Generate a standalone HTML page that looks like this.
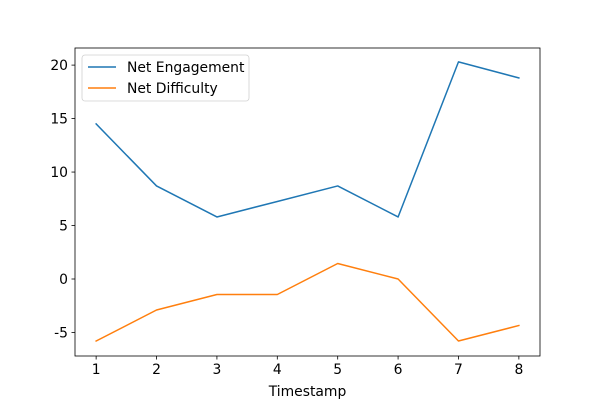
<!DOCTYPE html>
<html><head><meta charset="utf-8"><style>
html,body{margin:0;padding:0;background:#fff;}
svg{display:block;font-family:"DejaVu Sans","Liberation Sans",sans-serif;}
</style></head><body>
<svg id="chart" width="600" height="400" viewBox="0 0 600 400"></svg>
<script>
const categories = [1,2,3,4,5,6,7,8];
const engagement = [14.5,8.7,5.8,7.25,8.7,5.8,20.3,18.8];
const difficulty = [-5.8,-2.9,-1.45,-1.45,1.45,0,-5.8,-4.35];
const yTicks = [-5,0,5,10,15,20];
const xTicks = [1,2,3,4,5,6,7,8];

const L=75,R=540,T=48,B=356;
const xMin=0.65,xMax=8.35,yMin=-7.2,yMax=21.6;
const xs=v=>L+(v-xMin)/(xMax-xMin)*(R-L);
const ys=v=>B-(v-yMin)/(yMax-yMin)*(B-T);
const svg=document.getElementById('chart');
const NS='http://www.w3.org/2000/svg';
function mk(tag,attrs){const e=document.createElementNS(NS,tag);for(const k in attrs)e.setAttribute(k,attrs[k]);svg.appendChild(e);return e;}

const frame=mk('rect',{x:L,y:T,width:R-L,height:B-T,fill:'none',stroke:'#000','stroke-width':0.8});



xTicks.forEach(v=>{
  const t=mk('line',{x1:xs(v),x2:xs(v),y1:B,y2:B+3.5,stroke:'#000','stroke-width':0.8});
  
  
  const l=mk('text',{x:xs(v),y:B+18,'font-size':13.9,'text-anchor':'middle',fill:'#000'});
  l.textContent=v;
  
  
});
yTicks.forEach(v=>{
  const t=mk('line',{x1:L-3.5,x2:L,y1:ys(v),y2:ys(v),stroke:'#000','stroke-width':0.8});
  
  
  const l=mk('text',{x:L-7,y:ys(v)+5,'font-size':13.9,'text-anchor':'end',fill:'#000'});
  l.textContent=v;
  
  
});
const xt=mk('text',{x:(L+R)/2,y:B+40,'font-size':13.9,'text-anchor':'middle',fill:'#000'});
xt.textContent='Timestamp';



function series(vals,color,name){
  const p=mk('polyline',{points:vals.map((v,i)=>xs(categories[i])+','+ys(v)).join(' '),fill:'none',stroke:color,'stroke-width':1.5,'stroke-linejoin':'round','stroke-linecap':'square'});
  
  
}
series(engagement,'#1f77b4','net-engagement-line');
series(difficulty,'#ff7f0e','net-difficulty-line');

const lg=mk('rect',{x:82,y:55,width:167,height:46,rx:3,fill:'#fff',stroke:'#ccc','stroke-width':0.8,opacity:0.9});


[['Net Engagement','#1f77b4',67],['Net Difficulty','#ff7f0e',88]].forEach(([n,c,y])=>{
  const l=mk('line',{x1:88,x2:116,y1:y,y2:y,stroke:c,'stroke-width':1.5});
  
  
  const t=mk('text',{x:127,y:y+5,'font-size':13.9,fill:'#000'});
  t.textContent=n;
  
  
});
</script>
</body></html>
